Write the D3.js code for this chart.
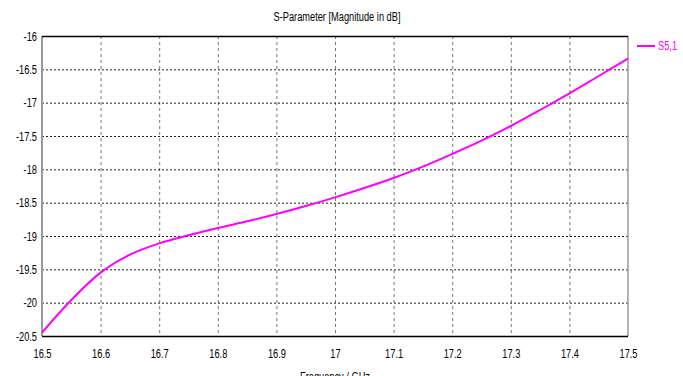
<!DOCTYPE html>
<html><head><meta charset="utf-8">
<script src="https://cdn.jsdelivr.net/npm/d3@7"></script>
<style>body{margin:0;background:#fff}svg{display:block}text{font-family:"Liberation Sans",Arial,sans-serif}</style>
</head><body><svg id="c" width="683" height="376"></svg>
<script>
const freq = [16.50,16.55,16.60,16.65,16.70,16.75,16.80,16.85,16.90,16.95,17.00,17.05,17.10,17.15,17.20,17.25,17.30,17.35,17.40,17.45,17.50];
const s51 = [-20.45,-19.96,-19.55,-19.28,-19.11,-18.99,-18.88,-18.78,-18.67,-18.55,-18.42,-18.28,-18.13,-17.96,-17.77,-17.57,-17.35,-17.11,-16.86,-16.60,-16.34];
const xTicks = [16.5,16.6,16.7,16.8,16.9,17,17.1,17.2,17.3,17.4,17.5];
const yTicks = [-16,-16.5,-17,-17.5,-18,-18.5,-19,-19.5,-20,-20.5];
const title = "S-Parameter [Magnitude in dB]";
const xLabel = "Frequency / GHz";
const seriesName = "S5,1";

const svg = d3.select("#c");
const L=42,R=628,T=36,B=336;
const x = d3.scaleLinear().domain([16.5,17.5]).range([L,R]);
const y = d3.scaleLinear().domain([-20.5,-16]).range([B,T]);

// vertical grid
svg.append("g").selectAll("line").data(xTicks.slice(1,-1)).join("line")
  .attr("x1",d=>x(d)+0.5).attr("x2",d=>x(d)+0.5).attr("y1",T).attr("y2",B)
  .attr("stroke","#777").attr("stroke-dasharray","3,3").attr("stroke-width",1);
// horizontal grid
svg.append("g").selectAll("line").data(yTicks.slice(1,-1)).join("line")
  .attr("x1",L).attr("x2",R).attr("y1",d=>y(d)+0.5).attr("y2",d=>y(d)+0.5)
  .attr("stroke","#222").attr("stroke-dasharray","2,2").attr("stroke-width",1);

// frame
svg.append("line").attr("x1",L).attr("x2",L).attr("y1",T).attr("y2",B).attr("stroke","#999").attr("stroke-width",2);
svg.append("line").attr("x1",R).attr("x2",R).attr("y1",T).attr("y2",B).attr("stroke","#999").attr("stroke-width",1.5);
svg.append("line").attr("x1",L).attr("x2",R).attr("y1",T+0.5).attr("y2",T+0.5).attr("stroke","#000").attr("stroke-width",1.5);
svg.append("line").attr("x1",L).attr("x2",R).attr("y1",B+0.5).attr("y2",B+0.5).attr("stroke","#000").attr("stroke-width",1.5);

const FONT = '"Liberation Sans",Arial,sans-serif';
const ya = d3.axisLeft(y).tickValues(yTicks).tickSize(0).tickPadding(5).tickFormat(d=>String(d));
const gy = svg.append("g").attr("transform",`translate(${L},0)`).call(ya);
gy.select(".domain").remove();
gy.selectAll("text").attr("font-size",12.5).attr("fill","#000").style("font-family",FONT);
const xa = d3.axisBottom(x).tickValues(xTicks).tickSize(0).tickPadding(13).tickFormat(d=>String(d));
const gx = svg.append("g").attr("transform",`translate(0,${B})`).call(xa);
gx.select(".domain").remove();
gx.selectAll("text").attr("font-size",12.5).attr("fill","#000").style("font-family",FONT);

// line
const data = freq.map((f,i)=>[f,s51[i]]);
svg.append("path").datum(data)
  .attr("d",d3.line().x(d=>x(d[0])).y(d=>y(d[1])).curve(d3.curveCatmullRom.alpha(0.5)))
  .attr("fill","none").attr("stroke","#ff00ff").attr("stroke-width",2);

// title
svg.append("text").attr("x",337).attr("y",21).attr("text-anchor","middle").attr("font-size",12.5).attr("fill","#000").text(title);
svg.append("text").attr("x",335).attr("y",381).attr("text-anchor","middle").attr("font-size",12.5).attr("fill","#000").text(xLabel);

// legend
svg.append("line").attr("x1",637).attr("x2",655).attr("y1",46).attr("y2",46).attr("stroke","#ff00ff").attr("stroke-width",2);
svg.append("text").attr("x",658).attr("y",50).attr("font-size",12.5).attr("fill","#ff00ff").text(seriesName);

// condense all text to mimic the narrow font
svg.selectAll("text").each(function(){
  const w = this.getComputedTextLength();
  if (w>0) d3.select(this).attr("textLength", w*0.74).attr("lengthAdjust","spacingAndGlyphs");
});
</script></body></html>
